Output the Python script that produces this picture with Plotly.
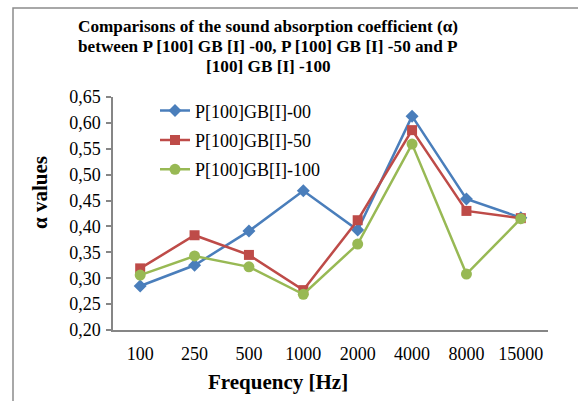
import plotly.graph_objects as go

# Frequency bands (Hz) and sound absorption coefficients per sample
frequencies = ["100", "250", "500", "1000", "2000", "4000", "8000", "15000"]
alpha_00 = [0.285, 0.325, 0.391, 0.469, 0.393, 0.613, 0.453, 0.417]
alpha_50 = [0.319, 0.383, 0.345, 0.277, 0.412, 0.586, 0.430, 0.416]
alpha_100 = [0.306, 0.343, 0.322, 0.269, 0.366, 0.559, 0.308, 0.415]

series_names = ["P[100]GB[I]-00", "P[100]GB[I]-50", "P[100]GB[I]-100"]
y_ticks = [0.20, 0.25, 0.30, 0.35, 0.40, 0.45, 0.50, 0.55, 0.60, 0.65]
y_tick_text = [f"{v:.2f}".replace(".", ",") for v in y_ticks]

title_lines = [
    "Comparisons of the sound absorption coefficient (α)",
    "between P [100] GB [I] -00, P [100] GB [I] -50 and P",
    "[100] GB [I] -100",
]

FONT = "Liberation Serif, Times New Roman, serif"
W, H = 578, 401
ML, MR, MT, MB = 113, 30, 97, 71
PW, PH = W - ML - MR, H - MT - MB

def px_x(x):
    return (x - ML) / PW

def px_y(y):
    return (H - MB - y) / PH

styles = [
    ("#4A7EBB", "diamond", 10),
    ("#BE4B48", "square", 10),
    ("#98B954", "circle", 11),
]

fig = go.Figure()
for name, vals, (col, sym, sz) in zip(series_names, [alpha_00, alpha_50, alpha_100], styles):
    fig.add_trace(go.Scatter(
        x=frequencies, y=vals, name=name, mode="lines+markers",
        legendgroup=name,
        line=dict(color=col, width=2.5),
        marker=dict(color=col, symbol=sym, size=sz),
    ))

annotations = []
for i, line in enumerate(title_lines):
    annotations.append(dict(
        text=f"<b>{line}</b>", xref="paper", yref="paper",
        x=px_x(268), y=px_y(27 + 19.5 * i), xanchor="center", yanchor="middle",
        showarrow=False, font=dict(family=FONT, size=17.2, color="black"),
    ))
annotations += [
    dict(text="<b>Frequency [Hz]</b>", xref="paper", yref="paper",
         x=px_x(278), y=px_y(382), xanchor="center", yanchor="middle",
         showarrow=False, font=dict(family=FONT, size=21)),
    dict(text="<b>α values</b>", xref="paper", yref="paper",
         x=px_x(40), y=px_y(193), xanchor="center", yanchor="middle", textangle=-90,
         showarrow=False, font=dict(family=FONT, size=21)),
]

fig.update_layout(
    width=W, height=H,
    margin=dict(l=ML, r=MR, t=MT, b=MB),
    paper_bgcolor="white", plot_bgcolor="white",
    font=dict(family=FONT, size=18, color="black"),
    legend=dict(
        x=px_x(155), y=1.02, xanchor="left", yanchor="top",
        bgcolor="rgba(0,0,0,0)", font=dict(family=FONT, size=18),
        tracegroupgap=3,
    ),
    xaxis=dict(
        type="category", range=[-0.5, 7.5],
        showline=True, linecolor="#868686", linewidth=1.5,
        showgrid=False, ticks="", zeroline=False,
        tickfont=dict(family=FONT, size=18),
        ticklabelstandoff=7,
    ),
    yaxis=dict(
        range=[0.20, 0.65], tickvals=y_ticks, ticktext=y_tick_text,
        showline=True, linecolor="#868686", linewidth=1.5,
        showgrid=False, zeroline=False,
        ticks="outside", ticklen=5, tickcolor="#868686", tickwidth=1.5,
        tickfont=dict(family=FONT, size=18),
        ticklabelstandoff=2,
    ),
    annotations=annotations,
    shapes=[
        dict(type="path", xref="paper", yref="paper",
             path=f"M {px_x(13)},{px_y(420)} L {px_x(13)},{px_y(8)} L {px_x(600)},{px_y(8)}",
             line=dict(color="#8c8c8c", width=1.5)),
    ],
)

fig.write_html("out.html")
